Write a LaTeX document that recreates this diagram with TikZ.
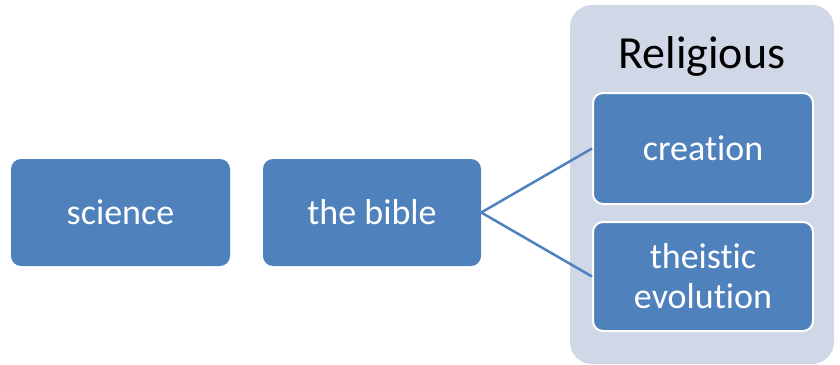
\documentclass[tikz,border=0pt]{standalone}
\usepackage{fontspec}
\setmainfont{Carlito}[Ligatures=NoCommon]
\usepackage{tikz}
\usetikzlibrary{positioning}
\definecolor{boxblue}{HTML}{4F81BD}
\definecolor{groupgray}{HTML}{D0D8E8}
\tikzset{
  topic/.style={fill=boxblue, rounded corners=10pt, text=white, align=center,
    font=\fontsize{36}{40}\selectfont, inner sep=0pt},
  member/.style={topic, draw=white, line width=2pt},
  link/.style={draw=boxblue, line width=2.5pt}
}

\begin{document}
\begin{tikzpicture}[x=1pt, y=-1pt]
\useasboundingbox (0,0) rectangle (840,364);
% group box
\node[fill=groupgray, rounded corners=22pt, minimum width=264pt, minimum height=359pt] (group) at (702,184.5) {};
\node[anchor=base, font=\fontsize{46}{50}\selectfont] (grouplabel) at (702,68) {Religious};
% left hand
\node[topic, minimum width=219pt, minimum height=107pt] (science) at (120.5,212.5) {science};
\node[topic, minimum width=218pt, minimum height=107pt] (bible) at (372,212.5) {the bible};
% right hand
\node[member, minimum width=220pt, minimum height=111pt] (creation) at (703,148.5) {creation};
\node[member, minimum width=220pt, minimum height=109pt] (theistic) at (703,276.5) {theistic\\evolution};
\draw[link] (bible.east) -- (creation.west);
\draw[link] (bible.east) -- (theistic.west);
\end{tikzpicture}
\end{document}
